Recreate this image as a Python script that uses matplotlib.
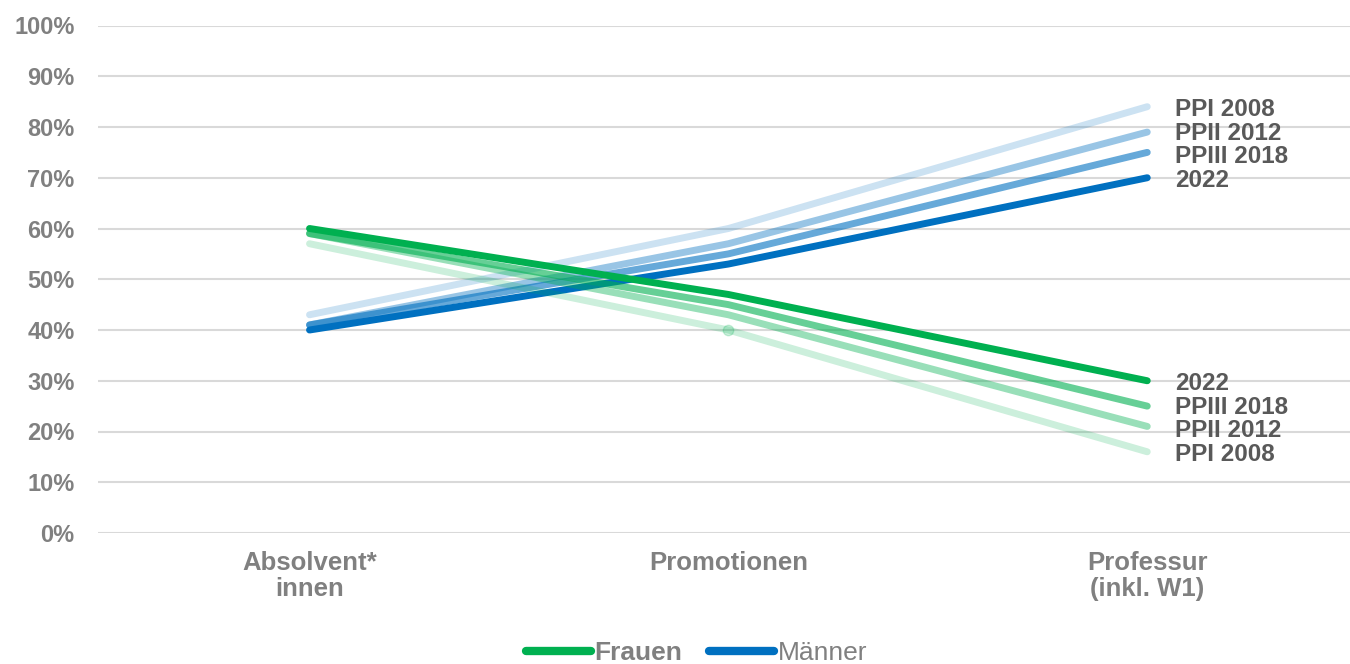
import matplotlib
matplotlib.use("Agg")
import matplotlib.pyplot as plt
from matplotlib.lines import Line2D

plt.rcParams['font.family'] = ['Liberation Sans', 'DejaVu Sans']

categories = ["Absolvent*\ninnen", "Promotionen", "Professur\n(inkl. W1)"]
waves = ["PPI 2008", "PPII 2012", "PPIII 2018", "2022"]

# share of women / men per career stage, one list per survey wave
frauen = {
    "PPI 2008": [57, 40, 16],
    "PPII 2012": [59, 43, 21],
    "PPIII 2018": [59, 45, 25],
    "2022": [60, 47, 30],
}
maenner = {
    "PPI 2008": [43, 60, 84],
    "PPII 2012": [41, 57, 79],
    "PPIII 2018": [41, 55, 75],
    "2022": [40, 53, 70],
}

GREEN = "#00B050"
BLUE = "#0070C0"
alphas = {"PPI 2008": 0.2, "PPII 2012": 0.4, "PPIII 2018": 0.6, "2022": 1.0}
TICK_GRAY = "#808080"
LABEL_GRAY = "#595959"

# small vertical nudges (points) so the crowded end labels don't collide
nudge_f = {"PPI 2008": -2, "PPII 2012": -3, "PPIII 2018": -1, "2022": -2}
nudge_m = {"PPI 2008": -2, "PPII 2012": -1, "PPIII 2018": -3, "2022": -2}


def main():
    fig = plt.figure(figsize=(13.5, 6.64), dpi=100)
    ax = fig.add_axes([98 / 1350, 131 / 664, 1252 / 1350, 507.5 / 664])
    x = list(range(len(categories)))

    for color, data, nudge in ((BLUE, maenner, nudge_m), (GREEN, frauen, nudge_f)):
        for wave in waves:
            kw = {}
            if data is frauen and wave == "PPI 2008":
                kw = dict(marker="o", markersize=7.5, markevery=[1])
            ax.plot(x, data[wave], color=color, alpha=alphas[wave], lw=5,
                    solid_capstyle="round", zorder=3, **kw)
            ax.annotate(wave, (x[-1], data[wave][-1]), xytext=(20, nudge[wave]),
                        textcoords="offset points", va="center", ha="left",
                        fontsize=17.5, fontweight="bold", color=LABEL_GRAY,
                        annotation_clip=False)

    ax.set_xlim(-0.505, 2.484)
    ax.set_ylim(0, 100)
    ax.set_yticks(range(0, 101, 10))
    ax.set_yticklabels(["{}%".format(v) for v in range(0, 101, 10)])
    ax.set_xticks(x)
    ax.set_xticklabels(categories, fontsize=18.5, linespacing=1.1)
    ax.tick_params(axis="y", length=0, labelsize=17, colors=TICK_GRAY, pad=17)
    ax.tick_params(axis="x", length=0, colors=TICK_GRAY, pad=13)
    for lab in ax.get_xticklabels() + ax.get_yticklabels():
        lab.set_fontweight("bold")
    ax.grid(axis="y", color="#D9D9D9", lw=1.5)
    for s in ax.spines.values():
        s.set_visible(False)

    handles = [Line2D([], [], color=GREEN, lw=6, solid_capstyle="round"),
               Line2D([], [], color=BLUE, lw=6, solid_capstyle="round")]
    leg = fig.legend(handles, ["Frauen", "Männer"], loc="center",
                     bbox_to_anchor=(0.516, 0.016), ncol=2, frameon=False,
                     fontsize=19, handlelength=2.45, handletextpad=0.15,
                     columnspacing=1.0, borderpad=0)
    texts = leg.get_texts()
    texts[0].set_fontweight("bold")
    for t in texts:
        t.set_color(TICK_GRAY)

    fig.savefig("out.png", dpi=100)


if __name__ == "__main__":
    main()
